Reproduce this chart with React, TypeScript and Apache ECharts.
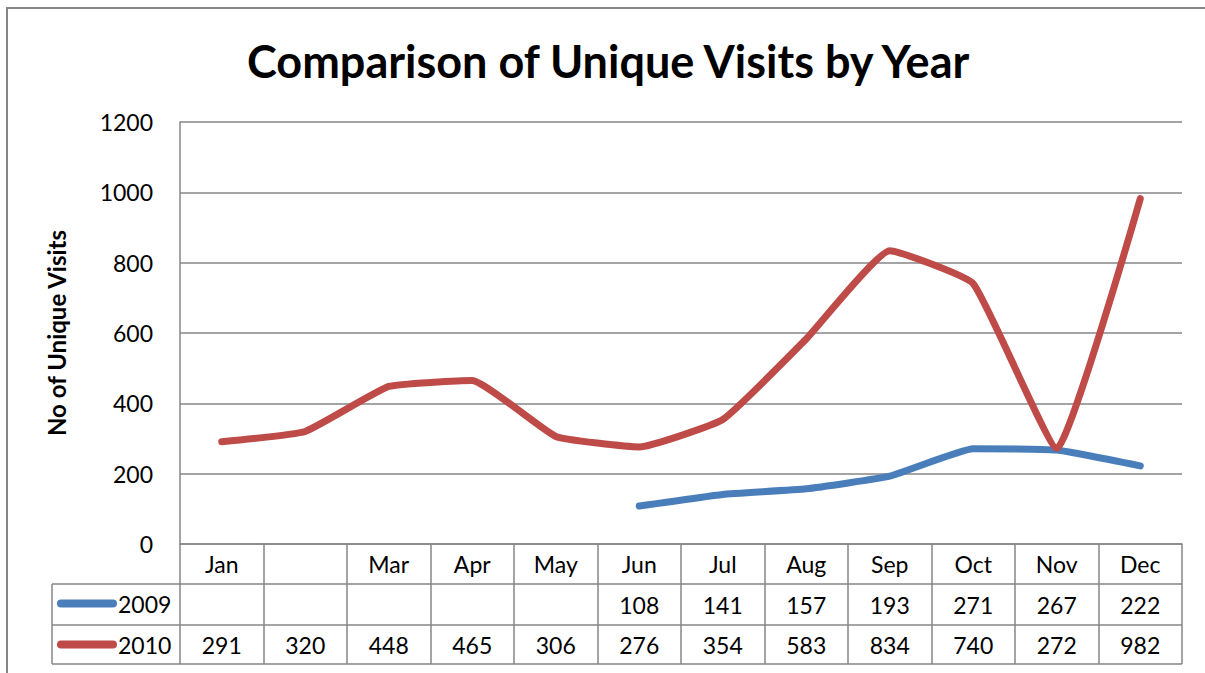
import React, { useEffect, useRef } from "react";
import * as echarts from "echarts";

const months = ["Jan", "", "Mar", "Apr", "May", "Jun", "Jul", "Aug", "Sep", "Oct", "Nov", "Dec"];
const visits2009: (number | null)[] = [null, null, null, null, null, 108, 141, 157, 193, 271, 267, 222];
const visits2010: number[] = [291, 320, 448, 465, 306, 276, 354, 583, 834, 740, 272, 982];
const seriesNames = ["2009", "2010"];
const yTicks = { min: 0, max: 1200, interval: 200 };

const FONT = "Lato, 'Open Sans', sans-serif";
const GRAY = "#868686";
const BLUE = "#4A7EBB";
const RED = "#BE4B48";

export default function App() {
  const ref = useRef<HTMLDivElement>(null);
  useEffect(() => {
    if (!ref.current) return;
    const chart = echarts.init(ref.current, null, { renderer: "svg" });
    const rowLabel = (offset: number, data: string[]) => ({
      type: "category",
      data,
      position: "bottom",
      offset,
      boundaryGap: true,
      axisLine: { show: false },
      axisTick: { show: false },
      axisLabel: { interval: 0, margin: 8, fontSize: 23, lineHeight: 23, color: "#000", fontFamily: FONT },
    });
    chart.setOption({
      animation: false,
      backgroundColor: "#fff",
      textStyle: { fontFamily: FONT },
      title: {
        text: "Comparison of Unique Visits by Year",
        left: 242,
        top: 33,
        textStyle: { fontSize: 45, fontWeight: "bold", color: "#000", fontFamily: FONT },
      },
      legend: {
        orient: "vertical",
        left: 57,
        top: 592,
        itemGap: 18,
        itemWidth: 60,
        itemHeight: 8,
        padding: 0,
        icon: "path://M4,0 L56,0 A4,4 0 0 1 56,8 L4,8 A4,4 0 0 1 4,0 Z",
        data: seriesNames,
        textStyle: { fontSize: 23, lineHeight: 23, color: "#000", fontFamily: FONT, padding: [0, 0, 0, -4] },
      },
      grid: { left: 180, right: 23, top: 122, bottom: 129, containLabel: false },
      xAxis: [
        {
          type: "category",
          data: months,
          boundaryGap: true,
          axisLine: { show: true, lineStyle: { color: GRAY, width: 1.5 } },
          axisTick: { show: true, interval: 0, length: 120, lineStyle: { color: GRAY, width: 1.5 } },
          axisLabel: { interval: 0, margin: 8, fontSize: 23, lineHeight: 23, color: "#000", fontFamily: FONT },
        },
        rowLabel(41, visits2009.map((v) => (v == null ? "" : String(v)))),
        rowLabel(81, visits2010.map((v) => String(v))),
      ],
      yAxis: {
        type: "value",
        min: yTicks.min,
        max: yTicks.max,
        interval: yTicks.interval,
        name: "No of Unique Visits",
        nameLocation: "middle",
        nameRotate: 90,
        nameGap: 112,
        nameTextStyle: { fontSize: 24, fontWeight: "bold", color: "#000", fontFamily: FONT },
        axisLine: { show: true, lineStyle: { color: GRAY, width: 1.5 } },
        axisTick: { show: false },
        axisLabel: { margin: 27, fontSize: 23, color: "#000", fontFamily: FONT, formatter: (v: number) => String(v) },
        splitLine: { show: true, lineStyle: { color: GRAY, width: 1.5 } },
      },
      series: [
        {
          name: seriesNames[0],
          type: "line",
          xAxisIndex: 0,
          data: visits2009,
          smooth: 0.12,
          showSymbol: false,
          symbol: "none",
          color: BLUE,
          lineStyle: { width: 7, color: BLUE, cap: "round", join: "round" },
        },
        {
          name: seriesNames[1],
          type: "line",
          xAxisIndex: 0,
          data: visits2010,
          smooth: 0.12,
          showSymbol: false,
          symbol: "none",
          color: RED,
          lineStyle: { width: 7, color: RED, cap: "round", join: "round" },
        },
      ],
      graphic: [
        { type: "rect", shape: { x: 7, y: 8, width: 1400, height: 900 }, style: { fill: "none", stroke: GRAY, lineWidth: 2 }, silent: true },
        { type: "line", shape: { x1: 52, y1: 584, x2: 1182, y2: 584 }, style: { stroke: GRAY, lineWidth: 1.5 } },
        { type: "line", shape: { x1: 52, y1: 625, x2: 1182, y2: 625 }, style: { stroke: GRAY, lineWidth: 1.5 } },
        { type: "line", shape: { x1: 52, y1: 664, x2: 1182, y2: 664 }, style: { stroke: GRAY, lineWidth: 1.5 } },
        { type: "line", shape: { x1: 52, y1: 584, x2: 52, y2: 664 }, style: { stroke: GRAY, lineWidth: 1.5 } },
      ],
    });
    return () => chart.dispose();
  }, []);
  return <div ref={ref} style={{ position: "fixed", left: 0, top: 0, width: 1205, height: 673 }} />;
}
